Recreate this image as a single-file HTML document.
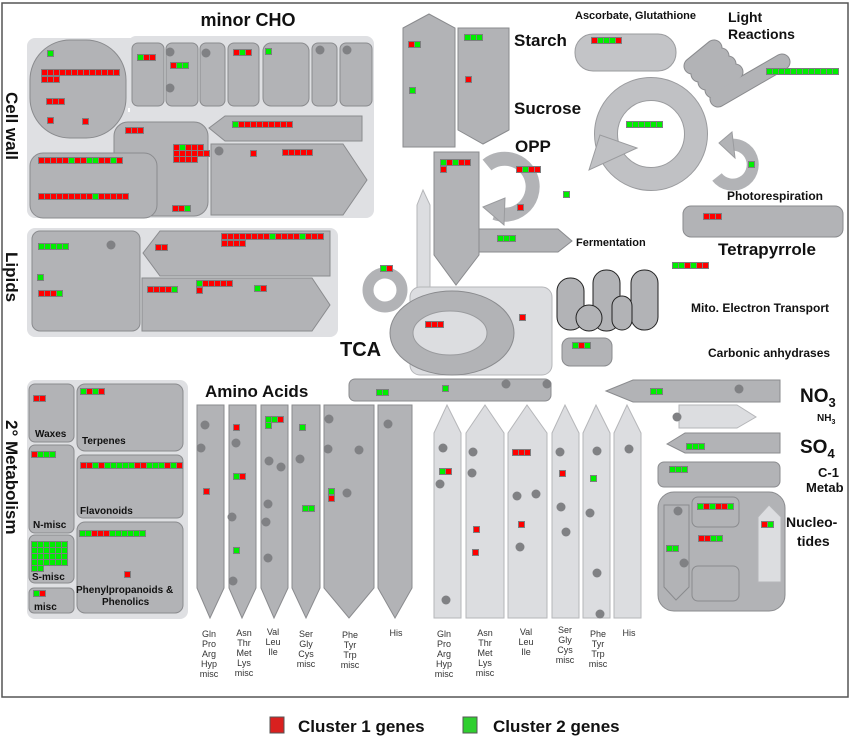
<!DOCTYPE html>
<html><head><meta charset="utf-8"><style>
html,body{margin:0;padding:0;background:#fff;}
svg{display:block;font-family:"Liberation Sans",sans-serif;}
.d{fill:#b2b3b6;stroke:#8a8b8e;stroke-width:1;}
.l{fill:#dcdde0;stroke:#b5b6b9;stroke-width:1;}
.bg{fill:#dfe0e3;}
.t{font-weight:bold;fill:#111;}
.s{font-size:9px;fill:#333;}
</style></head><body>
<svg id="m" width="851" height="738" viewBox="0 0 851 738" xmlns="http://www.w3.org/2000/svg">
<rect x="2" y="3" width="846" height="694" fill="#fff" stroke="#555" stroke-width="1.5"/>
<!-- Cell wall / minor CHO -->
<rect class="bg" x="27" y="38" width="347" height="180" rx="8"/>
<rect class="bg" x="128" y="36" width="246" height="76" rx="8"/>
<rect x="128" y="108" width="2" height="4" fill="#fff"/>
<rect class="d" x="30" y="40" width="96" height="98" rx="40"/>
<rect class="d" x="132" y="43" width="32" height="63" rx="6"/>
<rect class="d" x="166" y="43" width="32" height="63" rx="6"/>
<rect class="d" x="200" y="43" width="25" height="63" rx="6"/>
<rect class="d" x="228" y="43" width="31" height="63" rx="6"/>
<rect class="d" x="263" y="43" width="46" height="63" rx="8"/>
<rect class="d" x="312" y="43" width="25" height="63" rx="6"/>
<rect class="d" x="340" y="43" width="32" height="63" rx="6"/>
<rect class="d" x="114" y="122" width="94" height="94" rx="14"/>
<rect class="d" x="30" y="153" width="127" height="65" rx="13"/>
<polygon class="d" points="209,128 225,116 362,116 362,141 225,141"/>
<polygon class="d" points="211,144 343,144 367,180 343,215 211,215"/>
<text class="t" x="248" y="26" font-size="18" text-anchor="middle">minor CHO</text>
<text class="t" font-size="17" transform="translate(6,92) rotate(90)">Cell wall</text>
<!-- Lipids -->
<rect class="bg" x="27" y="228" width="311" height="109" rx="8"/>
<rect class="d" x="32" y="231" width="108" height="100" rx="8"/>
<polygon class="d" points="143,253 160,231 330,231 330,276 160,276"/>
<polygon class="d" points="142,278 312,278 330,305 312,331 142,331"/>
<text class="t" font-size="17" transform="translate(6,252) rotate(90)">Lipids</text>
<!-- Starch/Sucrose -->
<polygon class="d" points="403,28 429,14 455,28 455,147 403,147"/>
<polygon class="d" points="458,28 509,28 509,130 483,144 458,130"/>
<text class="t" x="514" y="46" font-size="17">Starch</text>
<text class="t" x="514" y="114" font-size="17">Sucrose</text>
<text class="t" x="515" y="152" font-size="17">OPP</text>
<!-- Ascorbate -->
<rect x="575" y="34" width="101" height="37" rx="18" fill="#c3c4c7" stroke="#9a9b9e"/>
<text class="t" x="575" y="19" font-size="11">Ascorbate, Glutathione</text>
<text class="t" x="728" y="22" font-size="14">Light</text>
<text class="t" x="728" y="39" font-size="14">Reactions</text>
<!-- light reaction coil -->
<g stroke="#8a8b8e" stroke-width="17" stroke-linecap="round">
<line x1="692" y1="66" x2="714" y2="48"/><line x1="699" y1="74" x2="721" y2="56"/><line x1="706" y1="82" x2="728" y2="64"/><line x1="713" y1="90" x2="735" y2="72"/><line x1="718" y1="99" x2="782" y2="62"/>
</g>
<g stroke="#b2b3b6" stroke-width="15" stroke-linecap="round">
<line x1="692" y1="66" x2="714" y2="48"/><line x1="699" y1="74" x2="721" y2="56"/><line x1="706" y1="82" x2="728" y2="64"/><line x1="713" y1="90" x2="735" y2="72"/><line x1="718" y1="99" x2="782" y2="62"/>
</g>
<!-- Calvin cycle -->
<circle cx="651" cy="134" r="45" fill="none" stroke="#9a9b9e" stroke-width="24"/>
<circle cx="651" cy="134" r="45" fill="none" stroke="#c0c1c4" stroke-width="22"/>
<polygon points="589,170 600,135 637,148" fill="#c0c1c4" stroke="#9a9b9e"/>
<!-- photorespiration -->
<path d="M729,145 A20,20 0 1 1 717,177" fill="none" stroke="#b2b3b6" stroke-width="12"/>
<polygon points="719,143 732,132 735,158" fill="#b2b3b6" stroke="#9a9b9e"/>
<text class="t" x="727" y="200" font-size="12">Photorespiration</text>
<rect class="d" x="683" y="206" width="160" height="31" rx="8"/>
<text class="t" x="718" y="255" font-size="17">Tetrapyrrole</text>
<!-- glycolysis & OPP -->
<path d="M487,165 A28,28 0 1 1 495,213" fill="none" stroke="#b2b3b6" stroke-width="14"/>
<polygon points="483,207 505,198 504,225" fill="#b2b3b6" stroke="#9a9b9e"/>
<polygon class="d" points="434,152 479,152 479,255 456,285 434,255"/>
<polygon class="d" points="479,229 558,229 572,241 558,252 479,252"/>
<text class="t" x="576" y="246" font-size="11">Fermentation</text>
<polygon class="l" points="417,205 423,190 430,205 430,290 417,290"/>
<!-- TCA -->
<rect class="l" x="410" y="287" width="142" height="88" rx="10"/>
<ellipse cx="452" cy="333" rx="62" ry="42" class="d"/>
<ellipse cx="450" cy="333" rx="37" ry="22" fill="#dcdde0" stroke="#9a9b9e"/>
<circle cx="385" cy="290" r="17" fill="none" stroke="#b2b3b6" stroke-width="11"/>
<text class="t" x="340" y="356" font-size="20">TCA</text>
<!-- mito -->
<g fill="#b2b3b6" stroke="#222" stroke-width="1">
<rect x="557" y="278" width="27" height="52" rx="13"/>
<rect x="593" y="270" width="27" height="61" rx="13"/>
<rect x="631" y="270" width="27" height="60" rx="13"/>
<rect x="612" y="296" width="20" height="34" rx="10"/>
<circle cx="589" cy="318" r="13"/>
</g>
<text class="t" x="691" y="312" font-size="12">Mito. Electron Transport</text>
<rect class="d" x="562" y="338" width="50" height="28" rx="8"/>
<text class="t" x="708" y="357" font-size="12">Carbonic anhydrases</text>
<!-- 2° metabolism -->
<rect class="bg" x="27" y="380" width="161" height="239" rx="8"/>
<rect class="d" x="29" y="384" width="45" height="58" rx="6"/>
<rect class="d" x="77" y="384" width="106" height="67" rx="8"/>
<rect class="d" x="29" y="445" width="45" height="88" rx="6"/>
<rect class="d" x="77" y="455" width="106" height="63" rx="6"/>
<rect class="d" x="29" y="535" width="45" height="48" rx="6"/>
<rect class="d" x="77" y="522" width="106" height="91" rx="8"/>
<rect class="d" x="29" y="588" width="45" height="25" rx="5"/>
<g font-size="10" fill="#111" font-weight="bold">
<text x="35" y="437">Waxes</text><text x="82" y="444">Terpenes</text><text x="33" y="528">N-misc</text>
<text x="80" y="514">Flavonoids</text><text x="32" y="580">S-misc</text><text x="76" y="593">Phenylpropanoids &amp;</text>
<text x="102" y="605">Phenolics</text><text x="34" y="610">misc</text></g>
<text class="t" font-size="17" transform="translate(6,420) rotate(90)">2° Metabolism</text>
<!-- Amino acids -->
<text class="t" x="205" y="397" font-size="17">Amino Acids</text>
<rect class="d" x="349" y="379" width="202" height="22" rx="6"/>
<g class="d">
<polygon points="197,405 224,405 224,588 210,618 197,588"/>
<polygon points="229,405 256,405 256,588 242,618 229,588"/>
<polygon points="261,405 288,405 288,588 274,618 261,588"/>
<polygon points="292,405 320,405 320,588 306,618 292,588"/>
<polygon points="324,405 374,405 374,588 349,618 324,588"/>
<polygon points="378,405 412,405 412,588 395,618 378,588"/>
</g>
<g class="l">
<polygon points="434,433 447,405 461,433 461,618 434,618"/>
<polygon points="466,433 485,405 504,433 504,618 466,618"/>
<polygon points="508,433 527,405 547,433 547,618 508,618"/>
<polygon points="552,433 565,405 579,433 579,618 552,618"/>
<polygon points="583,433 596,405 610,433 610,618 583,618"/>
<polygon points="614,433 627,405 641,433 641,618 614,618"/>
</g>
<g class="s" text-anchor="middle">
<text x="209" y="637">Gln<tspan x="209" dy="10">Pro</tspan><tspan x="209" dy="10">Arg</tspan><tspan x="209" dy="10">Hyp</tspan><tspan x="209" dy="10">misc</tspan></text>
<text x="244" y="636">Asn<tspan x="244" dy="10">Thr</tspan><tspan x="244" dy="10">Met</tspan><tspan x="244" dy="10">Lys</tspan><tspan x="244" dy="10">misc</tspan></text>
<text x="273" y="635">Val<tspan x="273" dy="10">Leu</tspan><tspan x="273" dy="10">Ile</tspan></text>
<text x="306" y="637">Ser<tspan x="306" dy="10">Gly</tspan><tspan x="306" dy="10">Cys</tspan><tspan x="306" dy="10">misc</tspan></text>
<text x="350" y="638">Phe<tspan x="350" dy="10">Tyr</tspan><tspan x="350" dy="10">Trp</tspan><tspan x="350" dy="10">misc</tspan></text>
<text x="396" y="636">His</text>
<text x="444" y="637">Gln<tspan x="444" dy="10">Pro</tspan><tspan x="444" dy="10">Arg</tspan><tspan x="444" dy="10">Hyp</tspan><tspan x="444" dy="10">misc</tspan></text>
<text x="485" y="636">Asn<tspan x="485" dy="10">Thr</tspan><tspan x="485" dy="10">Met</tspan><tspan x="485" dy="10">Lys</tspan><tspan x="485" dy="10">misc</tspan></text>
<text x="526" y="635">Val<tspan x="526" dy="10">Leu</tspan><tspan x="526" dy="10">Ile</tspan></text>
<text x="565" y="633">Ser<tspan x="565" dy="10">Gly</tspan><tspan x="565" dy="10">Cys</tspan><tspan x="565" dy="10">misc</tspan></text>
<text x="598" y="637">Phe<tspan x="598" dy="10">Tyr</tspan><tspan x="598" dy="10">Trp</tspan><tspan x="598" dy="10">misc</tspan></text>
<text x="629" y="636">His</text>
</g>
<!-- N, S, C1, nucleotides -->
<polygon class="d" points="606,391 633,380 780,380 780,402 633,402"/>
<polygon class="l" points="679,405 737,405 756,417 737,428 679,428"/>
<polygon class="d" points="667,444 685,433 780,433 780,453 685,453"/>
<rect class="d" x="658" y="462" width="122" height="25" rx="6"/>
<rect class="d" x="658" y="492" width="127" height="119" rx="16"/>
<polygon class="d" points="664,505 689,505 689,587 676,600 664,587"/>
<rect class="d" x="692" y="497" width="47" height="30" rx="6"/>
<rect class="d" x="692" y="566" width="47" height="35" rx="6"/>
<polygon class="l" points="758,517 769,505 781,517 781,582 758,582"/>
<text class="t" x="800" y="402" font-size="19">NO<tspan font-size="13" dy="5">3</tspan></text>
<text class="t" x="817" y="421" font-size="10">NH<tspan font-size="7" dy="3">3</tspan></text>
<text class="t" x="800" y="453" font-size="19">SO<tspan font-size="13" dy="5">4</tspan></text>
<text class="t" x="818" y="477" font-size="13">C-1</text>
<text class="t" x="806" y="492" font-size="13">Metab</text>
<text class="t" x="786" y="527" font-size="14">Nucleo-</text>
<text class="t" x="797" y="546" font-size="14">tides</text>
<!-- legend -->
<rect x="270" y="717" width="14" height="16" fill="#d9201f" stroke="#555"/>
<text class="t" x="298" y="732" font-size="17">Cluster 1 genes</text>
<rect x="463" y="717" width="14" height="16" fill="#2fcf2f" stroke="#555"/>
<text class="t" x="493" y="732" font-size="17">Cluster 2 genes</text>
<g id="dots" fill="#808184"></g>
<g id="strips"></g>
</svg>
<script>
var NS="http://www.w3.org/2000/svg";
function el(p,t,a){var e=document.createElementNS(NS,t);for(var k in a)e.setAttribute(k,a[k]);p.appendChild(e);return e;}
var S=document.getElementById("strips"),D=document.getElementById("dots");
function s(x,y,p){el(S,"rect",{x:x,y:y,width:p.length*6+1,height:7,fill:"#7d7e80"});
for(var i=0;i<p.length;i++)el(S,"rect",{x:x+1+i*6,y:y+1,width:5,height:5,fill:p[i]=="r"?"#ff0000":"#00ee00"});}
[[47,50,"g"],[41,69,"rrrrrrrrrrrrr"],[41,76,"rrr"],[46,98,"rrr"],[47,117,"r"],[82,118,"r"],
[137,54,"grr"],[170,62,"rgg"],[233,49,"rgr"],[265,48,"g"],[232,121,"grrrrrrrrr"],[125,127,"rrr"],
[173,144,"rgrrr"],[173,150,"rrrrrr"],[173,156,"rrrr"],[38,157,"rrrrrgrrggrrgr"],[38,193,"rrrrrrrrrgrrrrr"],
[172,205,"rrg"],[250,150,"r"],[282,149,"rrrrr"],
[38,243,"ggggg"],[37,274,"g"],[38,290,"rrrg"],[155,244,"rr"],[221,233,"rrrrrrrrgrrrrgrrr"],[221,240,"rrrr"],
[147,286,"rrrrg"],[196,280,"grrrrr"],[196,287,"r"],[254,285,"gr"],
[408,41,"rg"],[409,87,"g"],[464,34,"ggg"],[465,76,"r"],[591,37,"rgggr"],[626,121,"gggggg"],
[440,159,"grgrr"],[440,166,"r"],[516,166,"rgrr"],[517,204,"r"],[563,191,"g"],[748,161,"g"],
[703,213,"rrr"],[497,235,"ggg"],[425,321,"rrr"],[519,314,"r"],[572,342,"grg"],[380,265,"gr"],
[672,262,"ggrgrr"],[766,68,"gggggggggggg"],
[33,395,"rr"],[80,388,"grgr"],[31,451,"rggg"],[80,462,"rrgrgggggrrgggrgr"],
[31,541,"gggggg"],[31,547,"gggggg"],[31,553,"gggggg"],[31,559,"gggggg"],[31,565,"gg"],
[79,530,"ggrrrgggggg"],[124,571,"r"],[33,590,"gr"],
[203,488,"r"],[233,424,"r"],[233,473,"gr"],[233,547,"g"],[265,416,"ggr"],[265,422,"g"],[299,424,"g"],[302,505,"gg"],
[328,488,"g"],[328,495,"r"],[376,389,"gg"],[442,385,"g"],[650,388,"gg"],[686,443,"ggg"],[669,466,"ggg"],
[439,468,"gr"],[512,449,"rrr"],[473,526,"r"],[472,549,"r"],[518,521,"r"],[559,470,"r"],[590,475,"g"],
[697,503,"grgrrg"],[698,535,"rrgg"],[666,545,"gg"],[761,521,"rg"]].forEach(function(a){s(a[0],a[1],a[2]);});
[[170,52],[170,88],[206,53],[320,50],[347,50],[219,151],[111,245],
[205,425],[201,448],[236,443],[232,517],[233,581],[269,461],[281,467],[268,504],[266,522],[268,558],
[300,459],[329,419],[328,449],[359,450],[347,493],[388,424],[506,384],[547,384],[739,389],[677,417],
[443,448],[440,484],[473,452],[472,473],[517,496],[536,494],[520,547],[560,452],[561,507],[566,532],
[597,451],[590,513],[597,573],[600,614],[629,449],[446,600],[678,511],[684,563]].forEach(function(a){el(D,"circle",{cx:a[0],cy:a[1],r:4.5});});
</script>
</body></html>
